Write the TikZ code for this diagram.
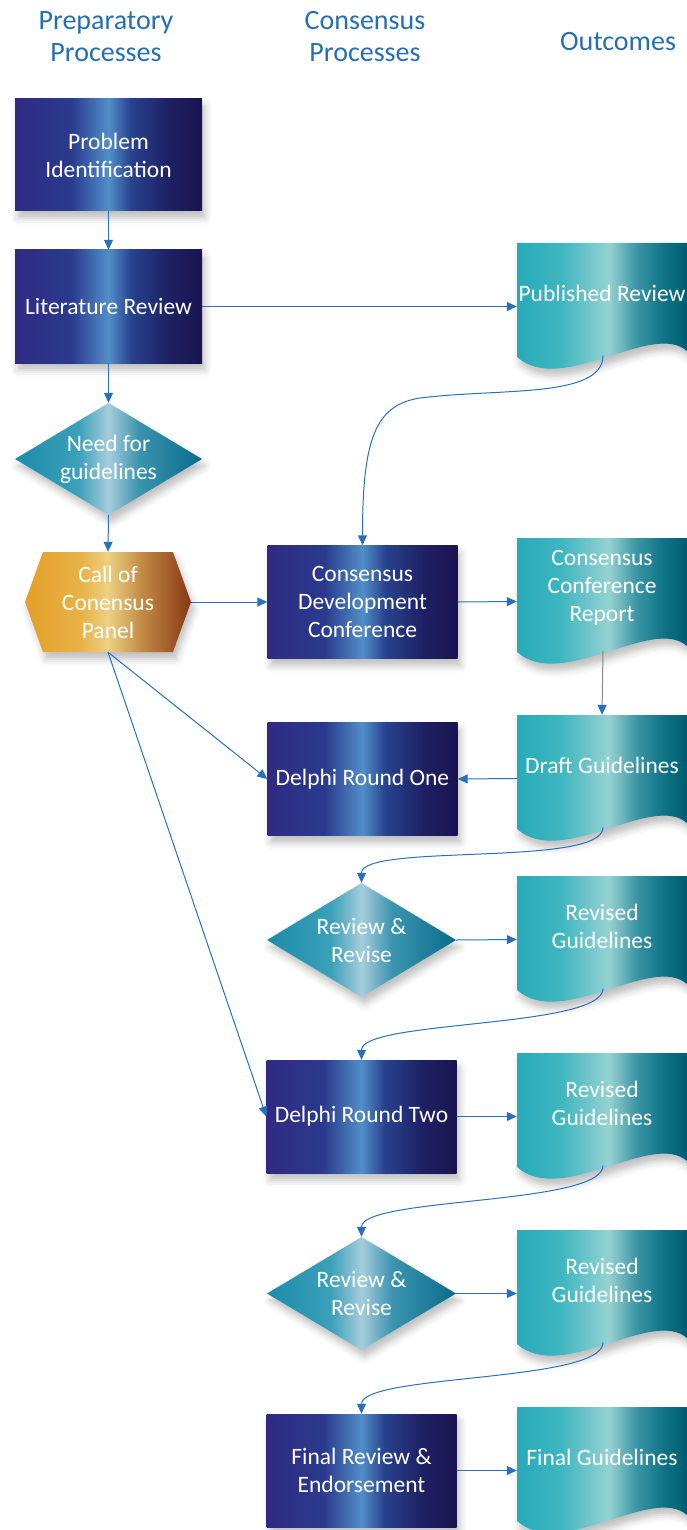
\documentclass[tikz,border=0pt]{standalone}
\usepackage{fontspec}
\setmainfont{Carlito}
\usetikzlibrary{arrows.meta,shadows.blur}
\definecolor{hdrblue}{RGB}{36,110,180}
\definecolor{arrowblue}{RGB}{40,112,190}
\definecolor{linegray}{RGB}{135,135,135}
% navy process boxes
\definecolor{nvA}{RGB}{48,42,130}
\definecolor{nvB}{RGB}{42,58,142}
\definecolor{nvC}{RGB}{82,142,200}
\definecolor{nvD}{RGB}{40,66,142}
\definecolor{nvE}{RGB}{30,32,100}
\definecolor{nvF}{RGB}{26,20,80}
% teal documents
\definecolor{tdA}{RGB}{40,170,185}
\definecolor{tdB}{RGB}{62,182,192}
\definecolor{tdC}{RGB}{150,210,210}
\definecolor{tdD}{RGB}{60,150,165}
\definecolor{tdE}{RGB}{15,115,135}
\definecolor{tdF}{RGB}{0,92,112}
% teal diamonds
\definecolor{dmA}{RGB}{28,140,170}
\definecolor{dmB}{RGB}{60,160,185}
\definecolor{dmC}{RGB}{165,205,220}
\definecolor{dmD}{RGB}{60,148,175}
\definecolor{dmF}{RGB}{8,108,140}
% gold hexagon
\definecolor{hxA}{RGB}{228,160,40}
\definecolor{hxB}{RGB}{232,178,72}
\definecolor{hxC}{RGB}{236,208,130}
\definecolor{hxD}{RGB}{195,140,70}
\definecolor{hxF}{RGB}{135,55,20}
\pgfdeclarehorizontalshading{navyshade}{100bp}{color(0bp)=(nvA); color(25bp)=(nvA); color(40bp)=(nvB); color(50bp)=(nvC); color(56bp)=(nvD); color(66bp)=(nvE); color(75bp)=(nvF); color(100bp)=(nvF)}
\pgfdeclarehorizontalshading{docshade}{100bp}{color(0bp)=(tdA); color(25bp)=(tdA); color(38bp)=(tdB); color(52bp)=(tdC); color(60bp)=(tdD); color(68bp)=(tdE); color(75bp)=(tdF); color(100bp)=(tdF)}
\pgfdeclarehorizontalshading{diashade}{100bp}{color(0bp)=(dmA); color(25bp)=(dmA); color(42bp)=(dmB); color(50bp)=(dmC); color(58bp)=(dmD); color(75bp)=(dmF); color(100bp)=(dmF)}
\pgfdeclarehorizontalshading{hexshade}{100bp}{color(0bp)=(hxA); color(25bp)=(hxA); color(42bp)=(hxB); color(50bp)=(hxC); color(60bp)=(hxD); color(75bp)=(hxF); color(100bp)=(hxF)}

% name, x, y, width, height, text
\newcommand\diamondnode[6]{%
  \shade[shading=diashade, softshadow, shift={(#2,#3)}] (0,{-#5/2}) -- ({#4/2},0) -- (0,{#5/2}) -- ({-#4/2},0) -- cycle;
  \node[lbl, minimum width=#4pt, minimum height=#5pt] (#1) at (#2,#3) {#6};
}
% name, x, y, width, height, inset, text
\newcommand\hexnode[7]{%
  \shade[shading=hexshade, softshadow, shift={(#2,#3)}] ({-#4/2},0) -- ({-#4/2+#6},{-#5/2}) -- ({#4/2-#6},{-#5/2}) -- ({#4/2},0) -- ({#4/2-#6},{#5/2}) -- ({-#4/2+#6},{#5/2}) -- cycle;
  \node[lbl, minimum width=#4pt, minimum height=#5pt] (#1) at (#2,#3) {#7};
}
% name, x, y, text
\newcommand\docnode[4]{%
  \shade[shading=docshade, softshadow, shift={(#2,#3)}] (-85,-63.5) -- (85,-63.5) -- (85,44.5) .. controls (50,14) and (-40,90) .. (-85,50.5) -- cycle;
  \node[lbl, minimum width=170pt, minimum height=127pt] (#1) at (#2,#3) {};
  \node[lbl] (#1-t) at (#2,{#3-13.5}) {#4};
  \coordinate (#1-b) at ({#2+1},{#3+49});
}

\begin{document}
\begin{tikzpicture}[x=1pt,y=-1pt,
  lbl/.style={text=white, font=\fontsize{23.5}{28}\selectfont, align=center, inner sep=0pt},
  hdr/.style={text=hdrblue, font=\fontsize{28}{32}\selectfont, align=center, inner sep=0pt},
  softshadow/.style={blur shadow={shadow xshift=3pt, shadow yshift=-7pt, shadow blur radius=7pt, shadow opacity=25}},
  procbox/.style={lbl, rectangle, minimum width=190pt, minimum height=113pt, shade, shading=navyshade, softshadow},
  conn/.style={draw=arrowblue, line width=1pt, -{Triangle[length=10pt,width=9pt]}},
  conngray/.style={draw=linegray, line width=1pt, -{Triangle[length=10pt,width=9pt,color=arrowblue]}}]
\useasboundingbox (0,0) rectangle (687,1530);

% headers
\node[hdr] (h1) at (106,37) {Preparatory\\Processes};
\node[hdr] (h2) at (365,37) {Consensus\\Processes};
\node[hdr] (h3) at (618,42) {Outcomes};

% left column
\node[procbox, minimum width=187pt, minimum height=112pt] (pi) at (108.5,155) {Problem\\Identification};
\node[procbox, minimum width=187pt, minimum height=113pt] (lr) at (108.5,306.5) {Literature Review};
\diamondnode{need}{108.5}{459}{187}{112}{Need for\\guidelines}
\hexnode{call}{108}{602}{166}{100}{18}{Call of\\Conensus\\Panel}

% middle column
\node[procbox] (cdc) at (362.5,602) {Consensus\\Development\\Conference};
\node[procbox] (dro) at (362.5,779) {Delphi Round One};
\diamondnode{rr1}{361.5}{940}{189}{114}{Review \&\\Revise}
\node[procbox] (drt) at (361.5,1116.5) {Delphi Round Two};
\diamondnode{rr2}{361.5}{1293.5}{189}{113}{Review \&\\Revise}
\node[procbox] (fre) at (361.5,1470.5) {Final Review \&\\Endorsement};

% outcomes
\docnode{pr}{602}{306.5}{Published Review}
\docnode{ccr}{602}{601.5}{Consensus\\Conference\\Report}
\docnode{dg}{602}{778.5}{Draft Guidelines}
\docnode{rg1}{602}{939.5}{Revised\\Guidelines}
\docnode{rg2}{602}{1116.5}{Revised\\Guidelines}
\docnode{rg3}{602}{1293.5}{Revised\\Guidelines}
\docnode{fg}{602}{1470.5}{Final Guidelines}

% connectors
\draw[conn] (pi.south) -- (lr.north);
\draw[conn] (lr.east) -- (pr.west);
\draw[conn] (lr.south) -- (need.north);
\draw[conn] (need.south) -- (call.north);
\draw[conn] (call.east) -- (cdc.west);
\draw[conn] (cdc.east) -- (ccr.west);
\draw[conngray] (ccr-b) -- (dg.north);
\draw[conn] (dg.west) -- (dro.east);
\draw[conn] (call.south) -- (dro.west);
\draw[conn] (call.south) -- (drt.west);
\coordinate (prmid) at (420,398);
\draw[conn] (pr-b) .. controls +(0,43) and +(80,-10) .. (prmid) .. controls +(-45,7) and +(0,-106) .. (cdc.north);
\draw[conn] (dg-b) .. controls +(0,40) and +(0,-40) .. (rr1.north);
\draw[conn] (rr1.east) -- (rg1.west);
\draw[conn] (rg1-b) .. controls +(0,40) and +(0,-40) .. (drt.north);
\draw[conn] (drt.east) -- (rg2.west);
\draw[conn] (rg2-b) .. controls +(0,40) and +(0,-40) .. (rr2.north);
\draw[conn] (rr2.east) -- (rg3.west);
\draw[conn] (rg3-b) .. controls +(0,40) and +(0,-40) .. (fre.north);
\draw[conn] (fre.east) -- (fg.west);
\end{tikzpicture}
\end{document}
